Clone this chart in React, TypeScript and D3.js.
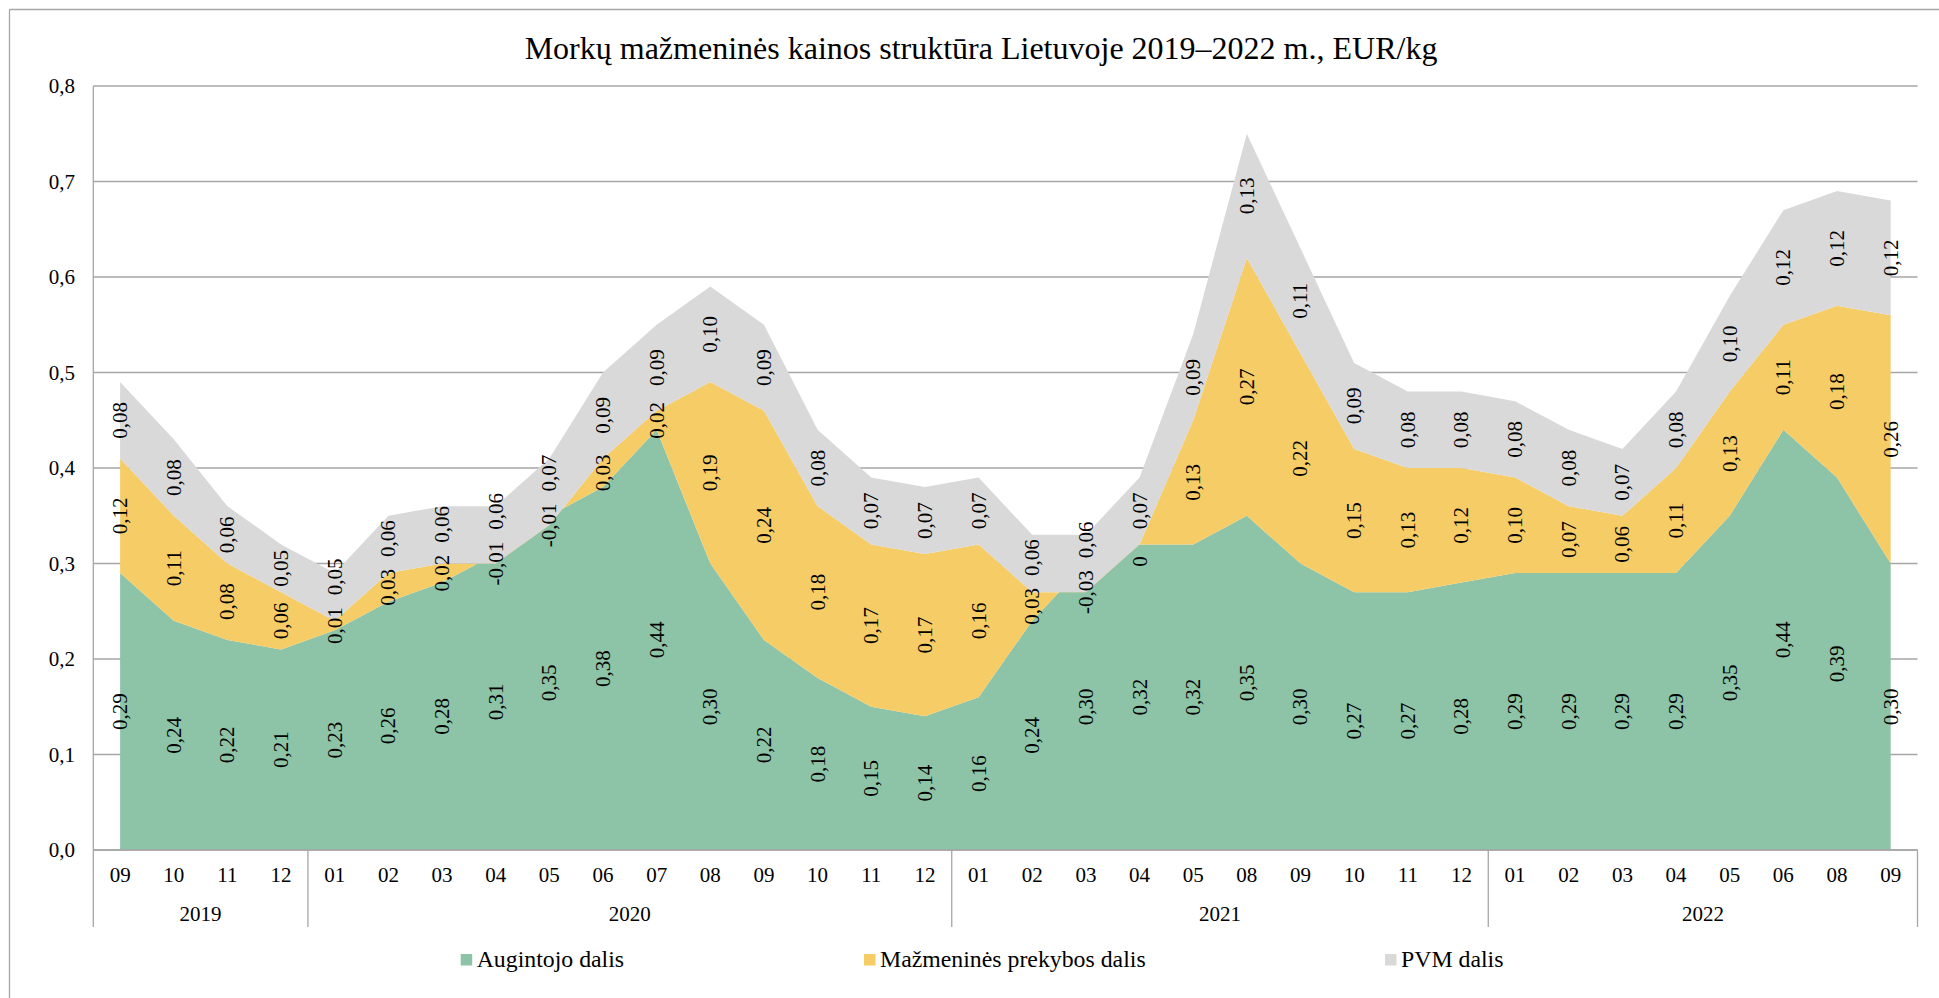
import React from "react";
import * as d3 from "d3";

const months = ["09","10","11","12","01","02","03","04","05","06","07","08","09","10","11","12","01","02","03","04","05","08","09","10","11","12","01","02","03","04","05","06","08","09"];
const years = ["2019","2019","2019","2019","2020","2020","2020","2020","2020","2020","2020","2020","2020","2020","2020","2020","2021","2021","2021","2021","2021","2021","2021","2021","2021","2021","2022","2022","2022","2022","2022","2022","2022","2022"];
const augintojo = [0.29,0.24,0.22,0.21,0.23,0.26,0.28,0.31,0.35,0.38,0.44,0.30,0.22,0.18,0.15,0.14,0.16,0.24,0.30,0.32,0.32,0.35,0.30,0.27,0.27,0.28,0.29,0.29,0.29,0.29,0.35,0.44,0.39,0.30];
const mazmenines = [0.12,0.11,0.08,0.06,0.01,0.03,0.02,-0.01,-0.01,0.03,0.02,0.19,0.24,0.18,0.17,0.17,0.16,0.03,-0.03,0,0.13,0.27,0.22,0.15,0.13,0.12,0.10,0.07,0.06,0.11,0.13,0.11,0.18,0.26];
const pvm = [0.08,0.08,0.06,0.05,0.05,0.06,0.06,0.06,0.07,0.09,0.09,0.10,0.09,0.08,0.07,0.07,0.07,0.06,0.06,0.07,0.09,0.13,0.11,0.09,0.08,0.08,0.08,0.08,0.07,0.08,0.10,0.12,0.12,0.12];
const seriesNames = ["Augintojo dalis", "Mažmeninės prekybos dalis", "PVM dalis"];
const seriesColors = ["#8DC3A7", "#F5CC66", "#D9D9D9"];
const yTicks = [0, 0.1, 0.2, 0.3, 0.4, 0.5, 0.6, 0.7, 0.8];
const title = "Morkų mažmeninės kainos struktūra Lietuvoje 2019–2022 m., EUR/kg";

const W = 1939, H = 998;
const plotL = 93.3, plotR = 1917.5, plotT = 86, plotB = 850;
const FONT = "'Liberation Serif', 'Times New Roman', serif";
const legendX = [460.7, 864, 1385];
const LABEL_FS = 21;
const LABEL_GAP = 12;

function labelLen(s: string) {
  let em = 0;
  for (const c of s) em += c === "," ? 0.25 : c === "-" ? 0.333 : 0.5;
  return em * LABEL_FS;
}

export default function App() {
  const idx = months.map((_, i) => i);
  const x = d3.scalePoint<number>().domain(idx).range([plotL, plotR]).padding(0.5);
  const step = x.step();
  const y = d3.scaleLinear().domain([0, 0.8]).range([plotB, plotT]);

  const rows = idx.map(i => ({ a: augintojo[i], b: mazmenines[i], c: pvm[i] }));
  const stacked = d3.stack<any>().keys(["a", "b", "c"]).order(d3.stackOrderNone).offset(d3.stackOffsetNone)(rows);
  const area = d3.area<any>()
    .x((_, i) => x(i)!)
    .y0(d => y(d[0]))
    .y1(d => y(d[1]));

  const fmtTick = (v: number) => v.toFixed(1).replace(".", ",");
  const fmtLab = (v: number) => (v === 0 ? "0" : v.toFixed(2).replace(".", ","));
  const values = [augintojo, mazmenines, pvm];

  // label positions: band middle, negative bands at their lower edge, then push upper labels up to avoid overlap
  const labels = idx.map(i => {
    const ls = stacked.map((s, k) => {
      const d: any = s[i];
      const v = values[k][i];
      let pos = (d[0] + d[1]) / 2;
      if (v < 0) pos = Math.min(d[0], d[1]);
      if (v === 0) pos = d[0] - 0.018;
      const text = fmtLab(v);
      return { text, cy: y(pos), half: labelLen(text) / 2 };
    });
    for (let k = 1; k < ls.length; k++) {
      const lim = ls[k - 1].cy - ls[k - 1].half - ls[k].half - LABEL_GAP;
      if (ls[k].cy > lim) ls[k].cy = lim;
    }
    return ls;
  });

  // year groups
  const groups: { year: string; start: number; end: number }[] = [];
  years.forEach((yr, i) => {
    const g = groups[groups.length - 1];
    if (g && g.year === yr) g.end = i;
    else groups.push({ year: yr, start: i, end: i });
  });

  const gridColor = "#A6A6A6";

  return (
    <svg width={W} height={H} style={{ position: "absolute", left: 0, top: 0, background: "#fff" }} fontFamily={FONT}>
      <rect x={0} y={0} width={W} height={H} fill="#fff" />
      <line x1={9.5} y1={9.5} x2={W} y2={9.5} stroke={gridColor} strokeWidth={1.3} />
      <line x1={9.5} y1={9.5} x2={9.5} y2={H} stroke={gridColor} strokeWidth={1.3} />
      <text x={981} y={59} fontSize={32} textAnchor="middle" fill="#000">{title}</text>

      {yTicks.map(t => (
        <g key={t}>
          <line x1={plotL} x2={plotR} y1={y(t)} y2={y(t)} stroke={gridColor} strokeWidth={1.3} />
          <text x={75} y={y(t)} dy="0.35em" fontSize={21} textAnchor="end" fill="#000">{fmtTick(t)}</text>
        </g>
      ))}

      {stacked.map((s, k) => (
        <path key={k} d={area(s as any)!} fill={seriesColors[k]} stroke="none" />
      ))}

      <line x1={plotL} x2={plotR} y1={plotB} y2={plotB} stroke={gridColor} strokeWidth={1.3} />
      <line x1={plotL} x2={plotL} y1={plotT} y2={927} stroke={gridColor} strokeWidth={1.3} />
      <line x1={plotR} x2={plotR} y1={plotB} y2={927} stroke={gridColor} strokeWidth={1.3} />
      {groups.slice(1).map(g => {
        const xs = x(g.start)! - step / 2;
        return <line key={g.year} x1={xs} x2={xs} y1={plotB} y2={927} stroke={gridColor} strokeWidth={1.3} />;
      })}

      {idx.map(i => (
        <text key={"m" + i} x={x(i)} y={882} fontSize={21} textAnchor="middle" fill="#000">{months[i]}</text>
      ))}
      {groups.map(g => (
        <text key={"y" + g.year} x={(x(g.start)! + x(g.end)!) / 2} y={920.5} fontSize={21} textAnchor="middle" fill="#000">{g.year}</text>
      ))}

      {labels.map((ls, i) =>
        ls.map((l, k) => (
          <text key={k + "-" + i} transform={`translate(${x(i)},${l.cy}) rotate(-90)`} fontSize={LABEL_FS} textAnchor="middle" dominantBaseline="central" fill="#000">
            {l.text}
          </text>
        ))
      )}

      {seriesNames.map((n, k) => (
        <g key={n}>
          <rect x={legendX[k]} y={954} width={11.5} height={11.5} fill={seriesColors[k]} />
          <text x={legendX[k] + 16} y={966.5} fontSize={23.8} fill="#000">{n}</text>
        </g>
      ))}
    </svg>
  );
}
